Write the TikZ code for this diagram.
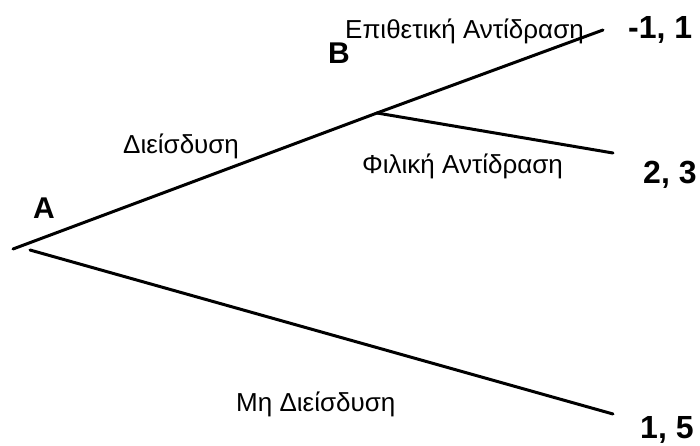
\documentclass[tikz,border=0pt]{standalone}
\usepackage{fontspec}
\setmainfont{Liberation Sans}
\begin{document}
\begin{tikzpicture}[x=1pt,y=-1pt,
  lbl/.style={anchor=base west,inner sep=0pt,font=\fontsize{26}{30}\selectfont},
  pay/.style={anchor=base west,inner sep=0pt,font=\fontsize{32}{36}\selectfont\bfseries},
  pl/.style={anchor=base west,inner sep=0pt,font=\fontsize{30}{34}\selectfont\bfseries},
  edge/.style={line width=3pt,line cap=round}]
\useasboundingbox (0,0) rectangle (700,445);
\coordinate (A0) at (13,249);
\coordinate (A1) at (30,250);
\coordinate (B0) at (377,113);
\coordinate (E1) at (603,30);
\coordinate (E2) at (613,153);
\coordinate (E3) at (613,414);
\draw[edge] (A0) -- (B0);
\draw[edge] (B0) -- (E1);
\draw[edge] (B0) -- (E2);
\draw[edge] (A1) -- (E3);
\node[lbl] (t1) at (345,38) {Επιθετική Αντίδραση};
\node[pay] (p1) at (628,38) {-1, 1};
\node[pl] (nB) at (328,63) {B};
\node[lbl] (t2) at (123,153) {Διείσδυση};
\node[lbl] (t3) at (362,173) {Φιλική Αντίδραση};
\node[pay] (p2) at (643,183) {2, 3};
\node[pl] (nA) at (33,218) {A};
\node[lbl] (t4) at (236,411) {Μη Διείσδυση};
\node[pay] (p3) at (640,438) {1, 5};
\end{tikzpicture}
\end{document}
